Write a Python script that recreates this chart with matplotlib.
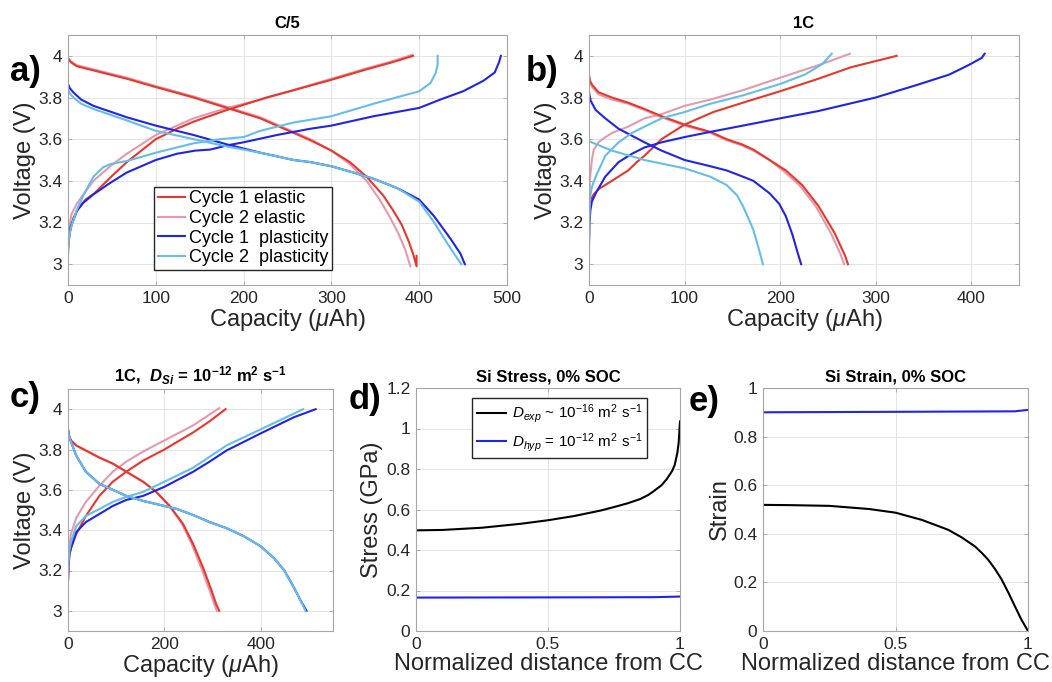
import matplotlib
matplotlib.use('Agg')
import matplotlib.pyplot as plt
from matplotlib.ticker import FuncFormatter

plt.rcParams['font.family'] = ['Liberation Sans', 'DejaVu Sans']
plt.rcParams['mathtext.fontset'] = 'custom'
plt.rcParams['mathtext.rm'] = 'Liberation Sans'
plt.rcParams['mathtext.it'] = 'Liberation Sans:italic'
plt.rcParams['mathtext.bf'] = 'Liberation Sans:bold'
plt.rcParams['mathtext.bfit'] = 'Liberation Sans:bold:italic'

RED = '#e8372c'
PINK = '#e49aad'
BLUE = '#1f24e8'
LBLUE = '#66bdea'

# ---------------- C/5 ----------------
c5_el1_chg_q = [0, 2, 6, 12, 20, 30, 48, 67, 100, 124, 143, 181, 200, 226, 257, 300, 340, 370, 393]
c5_el1_chg_v = [3.07, 3.15, 3.22, 3.27, 3.31, 3.34, 3.415, 3.49, 3.60, 3.65, 3.684, 3.74, 3.765, 3.80, 3.835, 3.885, 3.935, 3.97, 4.0]
c5_el2_chg_q = [0, 1, 4, 10, 20, 29, 48, 67, 100, 143, 181, 220, 260, 300, 340, 370, 392]
c5_el2_chg_v = [3.05, 3.17, 3.24, 3.29, 3.35, 3.40, 3.47, 3.53, 3.62, 3.70, 3.75, 3.79, 3.84, 3.89, 3.94, 3.975, 4.005]
c5_el1_dis_q = [0, 3, 10, 29, 67, 100, 143, 181, 219, 257, 276, 300, 321, 340, 359, 370, 380, 388, 393, 397, 397]
c5_el1_dis_v = [3.99, 3.97, 3.95, 3.93, 3.89, 3.85, 3.80, 3.75, 3.70, 3.63, 3.595, 3.545, 3.49, 3.42, 3.33, 3.26, 3.19, 3.11, 3.05, 2.99, 3.04]
c5_el2_dis_q = [0, 3, 10, 29, 67, 100, 143, 181, 219, 257, 276, 300, 321, 340, 355, 366, 376, 384, 390]
c5_el2_dis_v = [3.99, 3.975, 3.955, 3.935, 3.895, 3.855, 3.805, 3.755, 3.705, 3.635, 3.60, 3.545, 3.48, 3.40, 3.31, 3.23, 3.15, 3.07, 2.99]
c5_pl1_chg_q = [0, 1, 3, 6, 10, 17.5, 29, 48, 67, 100, 124, 145, 162, 181, 200, 238, 276, 300, 348, 400, 424, 450, 473, 486, 491, 493]
c5_pl1_chg_v = [3.08, 3.13, 3.18, 3.21, 3.255, 3.295, 3.335, 3.39, 3.44, 3.50, 3.53, 3.545, 3.55, 3.57, 3.585, 3.62, 3.65, 3.665, 3.71, 3.75, 3.79, 3.83, 3.88, 3.92, 3.97, 4.0]
c5_pl2_chg_q = [0, 1, 3, 6, 10, 17.5, 29, 40, 48, 60, 67, 100, 143, 173, 200, 219, 257, 300, 348, 400, 413, 419, 421, 421]
c5_pl2_chg_v = [3.04, 3.12, 3.17, 3.21, 3.26, 3.33, 3.42, 3.465, 3.48, 3.49, 3.495, 3.535, 3.58, 3.60, 3.61, 3.64, 3.68, 3.71, 3.77, 3.83, 3.87, 3.92, 3.96, 4.0]
c5_pl1_dis_q = [0, 2, 6, 15, 29, 67, 100, 143, 181, 219, 257, 276, 300, 325, 348, 375, 400, 417, 436, 447, 452]
c5_pl1_dis_v = [3.865, 3.845, 3.825, 3.79, 3.76, 3.705, 3.665, 3.62, 3.575, 3.535, 3.50, 3.49, 3.47, 3.44, 3.41, 3.365, 3.31, 3.23, 3.12, 3.05, 3.0]
c5_pl2_dis_q = [0, 2, 6, 15, 29, 67, 100, 143, 181, 219, 257, 276, 300, 325, 348, 375, 400, 417, 432, 443, 448]
c5_pl2_dis_v = [3.84, 3.82, 3.80, 3.77, 3.745, 3.69, 3.64, 3.60, 3.565, 3.535, 3.50, 3.49, 3.47, 3.44, 3.41, 3.365, 3.30, 3.20, 3.10, 3.03, 3.0]

# ---------------- 1C ----------------
c1_el1_chg_q = [0, 0.5, 1.7, 5, 10, 24, 41, 50, 58, 76, 100, 130, 161, 200, 240, 274, 322]
c1_el1_chg_v = [3.20, 3.27, 3.31, 3.335, 3.36, 3.40, 3.45, 3.49, 3.52, 3.60, 3.67, 3.73, 3.775, 3.83, 3.89, 3.945, 4.0]
c1_el2_chg_q = [0, 0.3, 1, 3, 5, 10, 14, 24, 41, 58, 76, 100, 127, 161, 200, 240, 273]
c1_el2_chg_v = [3.13, 3.30, 3.41, 3.50, 3.55, 3.585, 3.60, 3.63, 3.66, 3.70, 3.72, 3.76, 3.79, 3.835, 3.895, 3.955, 4.01]
c1_el1_dis_q = [0, 1, 3.4, 10, 24, 41, 58, 76, 100, 127, 144, 160, 172, 189, 206, 223, 240, 257, 268, 271]
c1_el1_dis_v = [3.91, 3.88, 3.86, 3.825, 3.80, 3.775, 3.745, 3.71, 3.67, 3.635, 3.60, 3.575, 3.55, 3.50, 3.45, 3.38, 3.28, 3.15, 3.04, 3.0]
c1_el2_dis_q = [0, 1, 3.4, 10, 24, 41, 58, 76, 100, 127, 144, 160, 172, 189, 204, 220, 237, 253, 263, 267]
c1_el2_dis_v = [3.90, 3.87, 3.85, 3.815, 3.79, 3.77, 3.74, 3.705, 3.665, 3.63, 3.595, 3.57, 3.545, 3.50, 3.445, 3.38, 3.28, 3.15, 3.05, 3.0]
c1_pl1_chg_q = [0, 0.5, 1.5, 3, 7, 17, 31, 45, 58, 76, 100, 127, 161, 200, 240, 300, 343, 377, 397, 411, 414]
c1_pl1_chg_v = [3.10, 3.20, 3.26, 3.30, 3.34, 3.42, 3.49, 3.53, 3.56, 3.585, 3.61, 3.635, 3.665, 3.70, 3.735, 3.80, 3.86, 3.91, 3.955, 3.99, 4.01]
c1_pl2_chg_q = [0, 0.3, 1, 3, 7, 17, 31, 45, 58, 76, 100, 127, 161, 200, 226, 244, 254]
c1_pl2_chg_v = [3.0, 3.20, 3.32, 3.37, 3.42, 3.52, 3.585, 3.63, 3.66, 3.70, 3.73, 3.77, 3.81, 3.865, 3.91, 3.96, 4.01]
c1_pl1_dis_q = [0, 0.5, 1.7, 7, 17, 31, 58, 76, 100, 127, 144, 161, 172, 189, 199, 206, 213, 218, 222]
c1_pl1_dis_v = [3.83, 3.81, 3.785, 3.74, 3.70, 3.65, 3.585, 3.545, 3.50, 3.47, 3.45, 3.42, 3.40, 3.34, 3.29, 3.23, 3.14, 3.06, 3.0]
c1_pl2_dis_q = [0, 24, 58, 100, 127, 144, 155, 161, 172, 177, 182]
c1_pl2_dis_v = [3.59, 3.545, 3.50, 3.46, 3.42, 3.38, 3.33, 3.28, 3.165, 3.085, 3.0]

# ---------------- 1C, D_Si = 1e-12 ----------------
dsi_el1_chg_q = [0, 1, 3, 6, 17, 37, 65, 93, 121, 156, 200, 260, 294, 327]
dsi_el1_chg_v = [3.15, 3.23, 3.28, 3.31, 3.38, 3.47, 3.57, 3.64, 3.69, 3.745, 3.80, 3.885, 3.94, 4.0]
dsi_el2_chg_q = [0, 1, 3, 6, 17, 37, 65, 93, 121, 156, 200, 260, 314]
dsi_el2_chg_v = [3.15, 3.26, 3.32, 3.38, 3.46, 3.54, 3.62, 3.69, 3.74, 3.79, 3.845, 3.92, 4.005]
dsi_el1_dis_q = [0, 2, 6, 17, 37, 65, 93, 121, 156, 183, 211, 239, 260, 281, 298, 308, 314]
dsi_el1_dis_v = [3.90, 3.87, 3.845, 3.82, 3.795, 3.76, 3.73, 3.69, 3.64, 3.59, 3.52, 3.43, 3.33, 3.21, 3.10, 3.03, 3.0]
dsi_el2_dis_q = [0, 2, 6, 17, 37, 65, 93, 121, 156, 183, 211, 237, 257, 277, 294, 304, 309]
dsi_el2_dis_v = [3.90, 3.87, 3.845, 3.82, 3.795, 3.76, 3.73, 3.69, 3.64, 3.59, 3.52, 3.43, 3.33, 3.21, 3.10, 3.03, 3.0]
dsi_pl1_chg_q = [0, 1, 3, 6, 17, 37, 65, 93, 121, 156, 200, 260, 294, 329, 400, 469, 514]
dsi_pl1_chg_v = [3.15, 3.22, 3.28, 3.31, 3.39, 3.44, 3.48, 3.52, 3.55, 3.57, 3.615, 3.69, 3.74, 3.795, 3.88, 3.96, 4.0]
dsi_pl2_chg_q = [0, 1, 3, 6, 17, 37, 65, 93, 121, 156, 200, 260, 329, 400, 488]
dsi_pl2_chg_v = [3.15, 3.24, 3.30, 3.34, 3.42, 3.47, 3.505, 3.54, 3.565, 3.59, 3.64, 3.71, 3.82, 3.90, 4.0]
dsi_pl1_dis_q = [0, 2, 6, 17, 37, 65, 93, 121, 156, 200, 226, 260, 294, 329, 365, 400, 428, 449, 469, 483, 495]
dsi_pl1_dis_v = [3.90, 3.87, 3.84, 3.77, 3.69, 3.63, 3.60, 3.57, 3.545, 3.52, 3.505, 3.475, 3.44, 3.41, 3.37, 3.32, 3.26, 3.20, 3.115, 3.05, 3.0]
dsi_pl2_dis_q = [0, 2, 6, 17, 37, 65, 93, 121, 156, 200, 226, 260, 294, 329, 365, 400, 428, 449, 469, 483, 493]
dsi_pl2_dis_v = [3.90, 3.87, 3.84, 3.77, 3.69, 3.63, 3.60, 3.57, 3.545, 3.52, 3.505, 3.475, 3.44, 3.41, 3.37, 3.32, 3.26, 3.20, 3.115, 3.05, 3.0]

# ---------------- Si stress / strain at 0% SOC ----------------
stress_x = [0, 0.1, 0.25, 0.4, 0.5, 0.6, 0.7, 0.75, 0.8, 0.85, 0.88, 0.9, 0.93, 0.95, 0.97, 0.98, 0.99, 0.995, 1.0]
stress_exp = [0.497, 0.499, 0.51, 0.53, 0.547, 0.568, 0.595, 0.612, 0.63, 0.652, 0.672, 0.69, 0.72, 0.75, 0.79, 0.82, 0.88, 0.93, 1.035]
stress_hyp_x = [0, 0.5, 0.9, 1.0]
stress_hyp = [0.165, 0.166, 0.167, 0.17]
strain_x = [0, 0.1, 0.25, 0.4, 0.5, 0.6, 0.7, 0.75, 0.8, 0.825, 0.85, 0.875, 0.9, 0.925, 0.95, 0.975, 1.0]
strain_exp = [0.519, 0.518, 0.515, 0.502, 0.487, 0.457, 0.416, 0.385, 0.348, 0.322, 0.293, 0.256, 0.213, 0.16, 0.103, 0.047, 0.0]
strain_hyp_x = [0, 0.5, 0.95, 1.0]
strain_hyp = [0.90, 0.902, 0.904, 0.91]

W, H = 1052, 682
fig = plt.figure(figsize=(W / 100, H / 100), dpi=100, facecolor='white')


def px_axes(left, right, top, bottom):
    return fig.add_axes([left / W, 1 - bottom / H, (right - left) / W, (bottom - top) / H])


fmt = FuncFormatter(lambda v, p: f'{v:g}')
TXT = '#262626'


def style(ax):
    ax.grid(True, color='#e4e4e4', linewidth=0.7)
    ax.set_axisbelow(True)
    for s in ax.spines.values():
        s.set_color('#a6a6a6')
        s.set_linewidth(0.8)
    ax.tick_params(direction='in', length=3, width=0.6, color='#a6a6a6',
                   labelcolor=TXT, labelsize=12.5, top=True, right=True, pad=4)
    ax.xaxis.set_major_formatter(fmt)
    ax.yaxis.set_major_formatter(fmt)


def voltage_panel(ax, curves, xmax, xticks, title):
    for q, v, c in curves:
        ax.plot(q, v, color=c, linewidth=1.5)
    ax.set_xlim(0, xmax)
    ax.set_ylim(2.9, 4.1)
    ax.set_xticks(xticks)
    ax.set_yticks([3, 3.2, 3.4, 3.6, 3.8, 4])
    style(ax)
    ax.set_xlabel(r'Capacity ($\mu$Ah)', fontsize=17, color=TXT, labelpad=1)
    ax.set_ylabel('Voltage (V)', fontsize=17, color=TXT, labelpad=2)
    ax.set_title(title, fontsize=12, fontweight='bold', pad=5)


lw = 1.5
ax_a = px_axes(68, 507, 35, 285)
voltage_panel(ax_a, [
    (c5_el2_chg_q, c5_el2_chg_v, PINK), (c5_el2_dis_q, c5_el2_dis_v, PINK),
    (c5_el1_chg_q, c5_el1_chg_v, RED), (c5_el1_dis_q, c5_el1_dis_v, RED),
    (c5_pl1_chg_q, c5_pl1_chg_v, BLUE), (c5_pl1_dis_q, c5_pl1_dis_v, BLUE),
    (c5_pl2_chg_q, c5_pl2_chg_v, LBLUE), (c5_pl2_dis_q, c5_pl2_dis_v, LBLUE),
], 500, [0, 100, 200, 300, 400, 500], 'C/5')
handles = [plt.Line2D([], [], color=c, linewidth=lw) for c in (RED, PINK, BLUE, LBLUE)]
ax_a.legend(handles, ['Cycle 1 elastic', 'Cycle 2 elastic', 'Cycle 1  plasticity', 'Cycle 2  plasticity'],
            loc='lower left', bbox_to_anchor=(0.196, 0.06), borderaxespad=0, fontsize=13,
            handlelength=1.5, handletextpad=0.25, labelspacing=0.15, borderpad=0.2,
            frameon=True, fancybox=False, framealpha=1, edgecolor=TXT)

ax_b = px_axes(589, 1019, 35, 285)
voltage_panel(ax_b, [
    (c1_el2_chg_q, c1_el2_chg_v, PINK), (c1_el2_dis_q, c1_el2_dis_v, PINK),
    (c1_el1_chg_q, c1_el1_chg_v, RED), (c1_el1_dis_q, c1_el1_dis_v, RED),
    (c1_pl1_chg_q, c1_pl1_chg_v, BLUE), (c1_pl1_dis_q, c1_pl1_dis_v, BLUE),
    (c1_pl2_chg_q, c1_pl2_chg_v, LBLUE), (c1_pl2_dis_q, c1_pl2_dis_v, LBLUE),
], 450, [0, 100, 200, 300, 400], '1C')

ax_c = px_axes(68, 333, 389, 631)
voltage_panel(ax_c, [
    (dsi_el2_chg_q, dsi_el2_chg_v, PINK), (dsi_el2_dis_q, dsi_el2_dis_v, PINK),
    (dsi_el1_chg_q, dsi_el1_chg_v, RED), (dsi_el1_dis_q, dsi_el1_dis_v, RED),
    (dsi_pl1_chg_q, dsi_pl1_chg_v, BLUE), (dsi_pl1_dis_q, dsi_pl1_dis_v, BLUE),
    (dsi_pl2_chg_q, dsi_pl2_chg_v, LBLUE), (dsi_pl2_dis_q, dsi_pl2_dis_v, LBLUE),
], 550, [0, 200, 400],
    r'1C,  $\mathbfit{D}_{\mathbfit{Si}}$$\mathbf{\,=\,10^{-12}\ m^{2}\ s^{-1}}$')

ax_d = px_axes(416, 680, 388, 631)
ax_d.plot(stress_x, stress_exp, color='black', linewidth=lw,
          label=r'$D_{exp}$ ~ 10$^{-16}$ m$^2$ s$^{-1}$')
ax_d.plot(stress_hyp_x, stress_hyp, color=BLUE, linewidth=lw,
          label=r'$D_{hyp}$ = 10$^{-12}$ m$^2$ s$^{-1}$')
ax_d.set_xlim(0, 1)
ax_d.set_ylim(0, 1.2)
ax_d.set_xticks([0, 0.5, 1])
ax_d.set_yticks([0, 0.2, 0.4, 0.6, 0.8, 1, 1.2])
style(ax_d)
ax_d.set_xlabel('Normalized distance from CC', fontsize=17, color=TXT, labelpad=1)
ax_d.set_ylabel('Stress (GPa)', fontsize=17, color=TXT, labelpad=2)
ax_d.set_title('Si Stress, 0% SOC', fontsize=12, fontweight='bold', pad=5)
ax_d.legend(loc='upper right', bbox_to_anchor=(0.875, 0.959), borderaxespad=0, fontsize=11,
            handlelength=1.9, handletextpad=0.4, labelspacing=0.35, borderpad=0.3,
            frameon=True, fancybox=False, framealpha=1, edgecolor=TXT)

ax_e = px_axes(763, 1028, 388, 631)
ax_e.plot(strain_x, strain_exp, color='black', linewidth=lw)
ax_e.plot(strain_hyp_x, strain_hyp, color=BLUE, linewidth=lw)
ax_e.set_xlim(0, 1)
ax_e.set_ylim(0, 1)
ax_e.set_xticks([0, 0.5, 1])
ax_e.set_yticks([0, 0.2, 0.4, 0.6, 0.8, 1])
style(ax_e)
ax_e.set_xlabel('Normalized distance from CC', fontsize=17, color=TXT, labelpad=1)
ax_e.set_ylabel('Strain', fontsize=17, color=TXT, labelpad=2)
ax_e.set_title('Si Strain, 0% SOC', fontsize=12, fontweight='bold', pad=5)

# panel letters
for lab, x, y in [('a)', 10, 71), ('b)', 526, 71), ('c)', 10, 397), ('d)', 349, 399), ('e)', 689, 401)]:
    fig.text(x / W, 1 - y / H, lab, fontsize=25, fontweight='bold', va='center', ha='left')

fig.savefig('out.png', dpi=100)
